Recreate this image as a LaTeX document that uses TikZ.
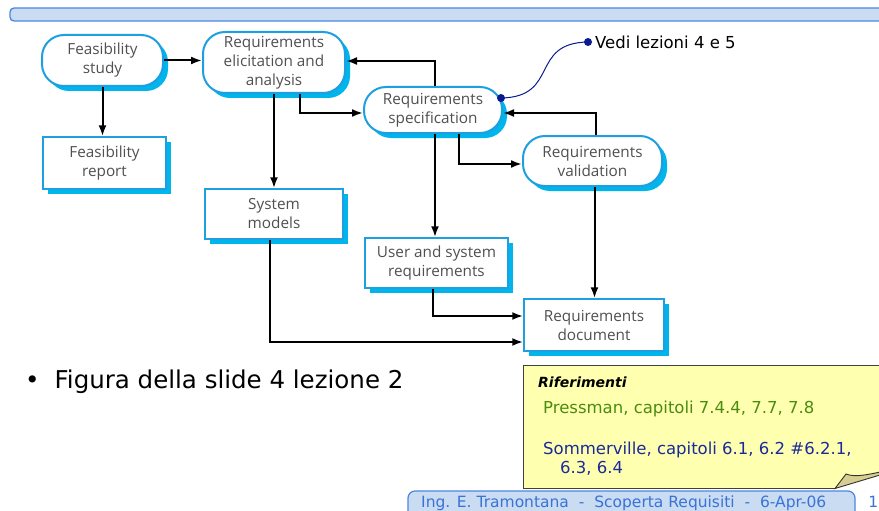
\documentclass[tikz,border=0pt]{standalone}
\usepackage{fontspec}
\setmainfont{DejaVu Sans}
\newfontfamily\boxfont{Open Sans}
\usetikzlibrary{arrows.meta,shadows,calc}
\definecolor{bordc}{HTML}{1E9FE0}
\definecolor{shadc}{HTML}{00B4EC}
\definecolor{txtg}{HTML}{505050}
\definecolor{barfill}{HTML}{C9DCF2}
\definecolor{barline}{HTML}{4A86E0}
\definecolor{foott}{HTML}{3A72D8}
\definecolor{notefill}{HTML}{FFFFB0}
\definecolor{flapc}{HTML}{D8CE90}
\definecolor{refgreen}{HTML}{4A8C10}
\definecolor{refblue}{HTML}{1A2A9A}
\definecolor{linkblue}{HTML}{0A1A90}
\tikzset{
  nodebase/.style={fill=white, draw=bordc, align=center, text=txtg,
    font=\boxfont\fontsize{15.3}{19}\selectfont, inner sep=0pt,
    general shadow={shadow xshift=5pt, shadow yshift=-5pt, fill=shadc}},
  proc/.style={nodebase, line width=2pt, rounded corners=22pt},
  datab/.style={nodebase, line width=1.5pt},
  arr/.style={line width=2pt, -{Latex[length=11pt,width=8pt]}},
  linkdot/.style={circle, fill=linkblue, inner sep=0pt, minimum size=8pt},
}
\begin{document}
\begin{tikzpicture}[x=1pt,y=-1pt]
\useasboundingbox (0,0) rectangle (879,511);
\clip (0,0) rectangle (879,511);
% top bar
\draw[fill=barfill, draw=barline, line width=1.3pt, rounded corners=4pt] (10,8) rectangle (900,21);
% process nodes
\node[proc, minimum width=121pt, minimum height=51pt] (fs) at (102.5,60.5) {Feasibility\\study};
\node[proc, minimum width=142pt, minimum height=61pt] (rea) at (274,62.5) {Requirements\\elicitation and\\analysis};
\node[proc, minimum width=138pt, minimum height=46pt] (rs) at (433,110) {Requirements\\specification};
\node[proc, minimum width=139pt, minimum height=50pt] (rv) at (592.5,161) {Requirements\\validation};
% data nodes
\node[datab, minimum width=123pt, minimum height=52pt] (fr) at (104.5,163) {Feasibility\\report};
\node[datab, minimum width=138pt, minimum height=50pt] (sm) at (274,214) {System\\models};
\node[datab, minimum width=143pt, minimum height=50pt] (us) at (436.5,263) {User and system\\requirements};
\node[datab, minimum width=140pt, minimum height=52pt] (rd) at (594,325) {Requirements\\document};
% connectors
\draw[arr] (fs.east) -- (fs.east -| rea.west);
\draw[arr] (fs.south) -- (fs.south |- fr.north);
\draw[arr] (rea.south) -- (rea.south |- sm.north);
\draw[arr] ([xshift=26pt]rea.south) |- ([yshift=-3pt]rs.west);
\draw[arr] ([xshift=2pt]rs.north) |- ([yshift=1.5pt]rea.east);
\draw[arr] ([xshift=2pt]rs.south) -- ([xshift=2pt]rs.south |- us.north);
\draw[arr] ([xshift=26pt]rs.south) |- ([yshift=-3pt]rv.west);
\draw[arr] ([xshift=3pt]rv.north) |- ([yshift=-3pt]rs.east);
\draw[arr] ([xshift=2pt]rv.south) -- ([xshift=2pt]rv.south |- rd.north);
\draw[arr] ([xshift=-4pt]sm.south) |- ([yshift=-17pt]rd.west);
\draw[arr] ([xshift=-3.5pt]us.south) |- ([yshift=9pt]rd.west);
% link note
\node[linkdot] (d1) at (501,98) {};
\node[linkdot] (d2) at (588,42) {};
\node[anchor=west, inner sep=0pt, font=\fontsize{16.5}{18}\selectfont] (vedi) at (595,42) {Vedi lezioni 4 e 5};
\draw[linkblue, line width=1pt] (d1.center) .. controls (560,97) and (529,43) .. (d2.center);
% bullet
\node[anchor=base west, inner sep=0pt, font=\fontsize{24.5}{28}\selectfont] (fig) at (25,388) {\textbullet\hspace{15pt}Figura della slide 4 lezione 2};
% note box
\fill[notefill] (523,365) -- (890,365) -- (890,470) .. controls (870,474) and (856,478) .. (846,474) -- (835,488.5) -- (523,488.5) -- cycle;
\draw[draw=black!75, line width=1pt] (890,365) -- (523,365) -- (523,488.5) -- (835,488.5);
\draw[fill=flapc, draw=black!80, line width=0.9pt] (835,488.5) -- (846,474) .. controls (856,478) and (870,474) .. (890,470) -- (890,472) -- cycle;
\node[anchor=base west, inner sep=0pt, font=\fontsize{14}{16}\selectfont\bfseries\itshape] (rif) at (538,387) {Riferimenti};
\node[anchor=base west, inner sep=0pt, text=refgreen, font=\fontsize{16.5}{18}\selectfont] (pres) at (543,413) {Pressman, capitoli 7.4.4, 7.7, 7.8};
\node[anchor=base west, inner sep=0pt, text=refblue, font=\fontsize{16.5}{18}\selectfont] (som) at (543,454) {Sommerville, capitoli 6.1, 6.2 \#6.2.1,};
\node[anchor=base west, inner sep=0pt, text=refblue, font=\fontsize{16.5}{18}\selectfont] (som2) at (560,473) {6.3, 6.4};
% footer
\draw[fill=barfill, draw=barline, line width=1.2pt, rounded corners=7pt] (408,491) rectangle (855,520);
\node[anchor=base west, inner sep=0pt, text=foott, font=\fontsize{15.5}{17}\selectfont] (foot) at (421,507) {Ing. E. Tramontana\ \ -\ \ Scoperta Requisiti\ \ -\ \ 6-Apr-06};
\node[anchor=base east, inner sep=0pt, text=foott, font=\fontsize{15.5}{17}\selectfont] (pg) at (878.5,507) {1};
\end{tikzpicture}
\end{document}
